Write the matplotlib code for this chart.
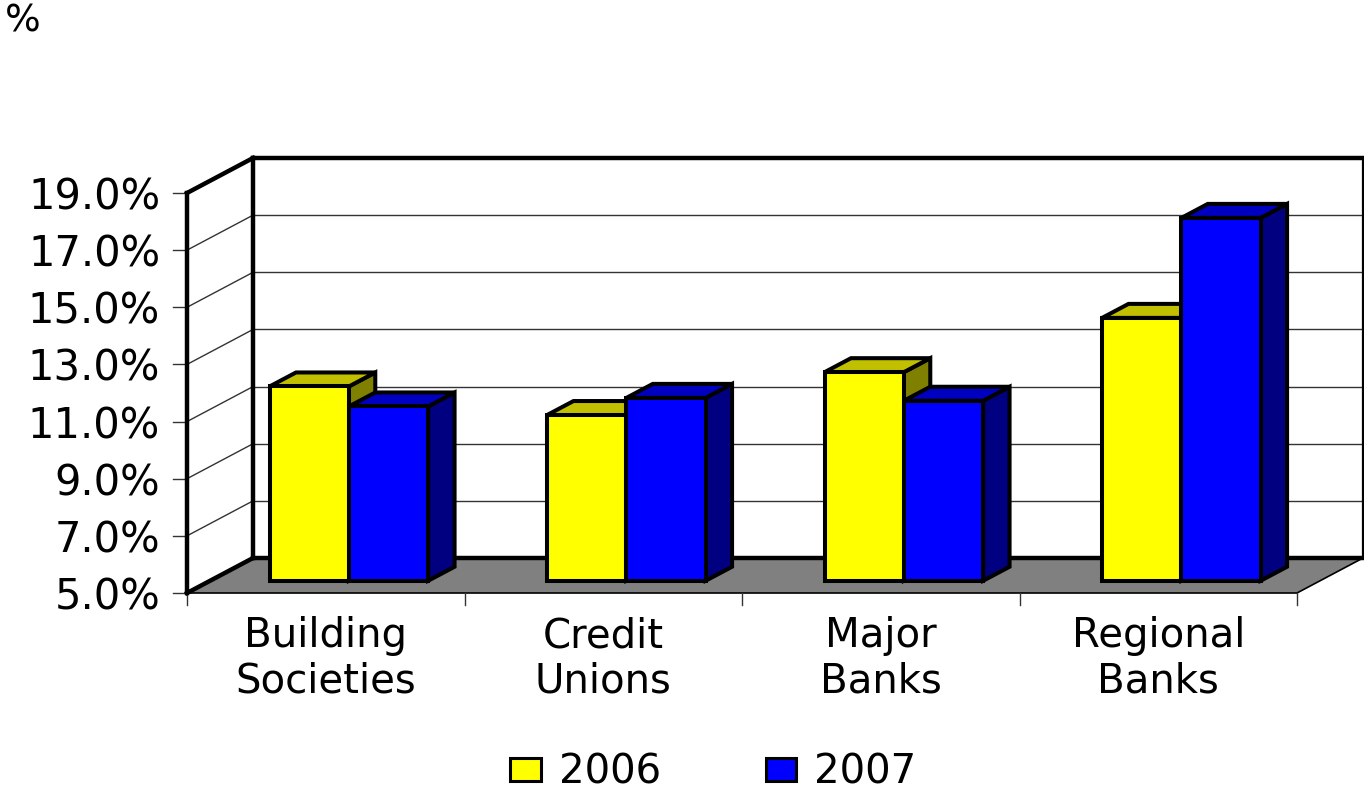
import matplotlib.pyplot as plt
from matplotlib.patches import Polygon, Patch

categories = ["Building\nSocieties", "Credit\nUnions", "Major\nBanks", "Regional\nBanks"]
series_names = ["2006", "2007"]
values_2006 = [11.8, 10.8, 12.3, 14.2]
values_2007 = [11.1, 11.4, 11.3, 17.7]
y_ticks = [5, 7, 9, 11, 13, 15, 17, 19]
y_tick_labels = ["5.0%", "7.0%", "9.0%", "11.0%", "13.0%", "15.0%", "17.0%", "19.0%"]

# face colours: front, top, side
COLORS = {
    "2006": ("#FFFF00", "#C0C000", "#808000"),
    "2007": ("#0000FF", "#0000C0", "#000080"),
}
FLOOR = "#808080"

Y_MIN, Y_MAX = 5, 19
DEPTH_X = 0.238   # category units
DEPTH_Y = 1.225   # percent units
BAR_W = 1 / 3.5
Z_FRONT, Z_BACK = 0.35, 0.75
FS = 29


def proj(x, y, z):
    return (x + z * DEPTH_X, y + z * DEPTH_Y)


def face(ax, pts, fc, lw=2.9, ec="black", zorder=3):
    ax.add_patch(Polygon([proj(*p) for p in pts], closed=True, facecolor=fc,
                         edgecolor=ec, lw=lw, joinstyle="miter", zorder=zorder))


fig = plt.figure(figsize=(13.64, 7.90), dpi=100)
ax = fig.add_axes([0, 0, 1, 1])
# pixel mapping: x=0 at 187 px, 277.5 px per category; 5% at 593 px, 28.57 px per %
ax.set_xlim(-187 / 277.5, (1364 - 187) / 277.5)
ax.set_ylim(5 - (790 - 593) / 28.571, 5 + 593 / 28.571)
ax.axis("off")

n = len(categories)

# walls and floor
face(ax, [(0, Y_MIN, 1), (n, Y_MIN, 1), (n, Y_MAX, 1), (0, Y_MAX, 1)], "white", lw=0, zorder=1)
face(ax, [(0, Y_MIN, 0), (0, Y_MIN, 1), (0, Y_MAX, 1), (0, Y_MAX, 0)], "white", lw=0, zorder=1)
face(ax, [(0, Y_MIN, 0), (n, Y_MIN, 0), (n, Y_MIN, 1), (0, Y_MIN, 1)], FLOOR, lw=1.2, zorder=1)

# gridlines on back wall and left wall, plus value ticks
for t, lab in zip(y_ticks, y_tick_labels):
    xs, ys = zip(proj(0, t, 1), proj(n, t, 1))
    ax.plot(xs, ys, color="#333333", lw=1.0, zorder=1.5)
    xs, ys = zip(proj(0, t, 0), proj(0, t, 1))
    ax.plot(xs, ys, color="#333333", lw=1.0, zorder=1.5)
    ax.plot([0, -0.05], [t, t], color="#333333", lw=1.0, zorder=1.5)
    ax.text(-0.097, t, lab, ha="right", va="center_baseline",
            fontsize=30, family="DejaVu Sans")


def edge(p0, p1, lw=3.2, color="black"):
    xs, ys = zip(proj(*p0), proj(*p1))
    ax.plot(xs, ys, color=color, lw=lw, solid_capstyle="projecting", zorder=2)


# thick wall outlines
edge((0, Y_MIN, 1), (n, Y_MIN, 1))
edge((0, Y_MAX, 1), (n, Y_MAX, 1))
edge((0, Y_MIN, 1), (0, Y_MAX, 1))
edge((n, Y_MIN, 1), (n, Y_MAX, 1), lw=1.6)
edge((0, Y_MIN, 0), (0, Y_MAX, 0))
edge((0, Y_MAX, 0), (0, Y_MAX, 1))
edge((0, Y_MIN, 0), (0, Y_MIN, 1))

# category ticks below the floor front edge
for i in range(n + 1):
    ax.plot([i, i], [Y_MIN, Y_MIN - 0.42], color="#333333", lw=1.0, zorder=1.5)

# bars
for i in range(n):
    for j, (name, vals) in enumerate(zip(series_names, [values_2006, values_2007])):
        v = vals[i]
        xl = i + 0.5 - BAR_W + j * BAR_W
        xr = xl + BAR_W
        front, top, side = COLORS[name]
        face(ax, [(xr, Y_MIN, Z_FRONT), (xr, Y_MIN, Z_BACK), (xr, v, Z_BACK), (xr, v, Z_FRONT)], side)
        face(ax, [(xl, v, Z_FRONT), (xr, v, Z_FRONT), (xr, v, Z_BACK), (xl, v, Z_BACK)], top)
        face(ax, [(xl, Y_MIN, Z_FRONT), (xr, Y_MIN, Z_FRONT), (xr, v, Z_FRONT), (xl, v, Z_FRONT)], front)

# category labels
for i, lab in enumerate(categories):
    ax.text(i + 0.5, 2.70, lab, ha="center", va="center", fontsize=FS,
            linespacing=1.15, family="DejaVu Sans")

# axis unit label
ax.text(-0.655, 24.66, "%", ha="left", va="baseline", fontsize=27, family="DejaVu Sans")

handles = [Patch(facecolor=COLORS[s][0], edgecolor="black", lw=2.2) for s in series_names]
fig.legend(handles, series_names, loc="center", bbox_to_anchor=(0.523, 0.022),
           ncol=2, frameon=False, handlelength=0.75, handleheight=0.5,
           handletextpad=0.45, columnspacing=2.6, prop={"family": "DejaVu Sans", "size": FS})

fig.savefig("out.png", dpi=100, facecolor="white")
